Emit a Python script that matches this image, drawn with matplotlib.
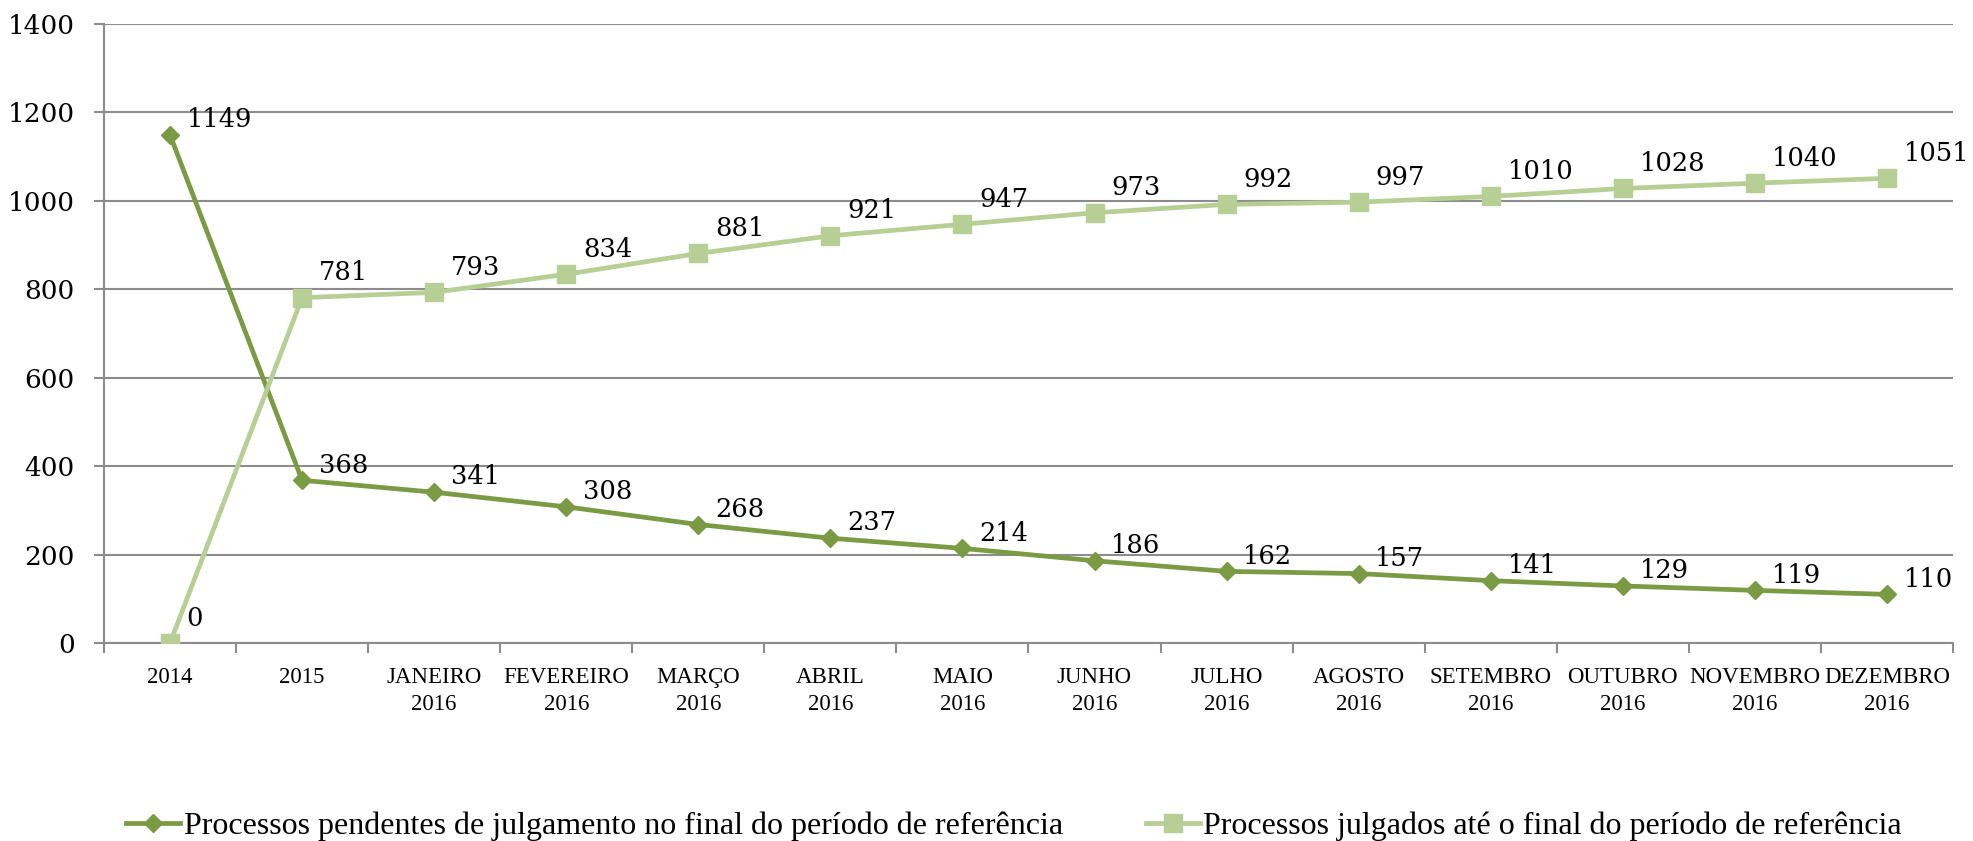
import matplotlib
matplotlib.use("Agg")
import matplotlib.pyplot as plt

categories = ['2014', '2015', 'JANEIRO\n2016', 'FEVEREIRO\n2016', 'MARÇO\n2016',
              'ABRIL\n2016', 'MAIO\n2016', 'JUNHO\n2016', 'JULHO\n2016',
              'AGOSTO\n2016', 'SETEMBRO\n2016', 'OUTUBRO\n2016',
              'NOVEMBRO\n2016', 'DEZEMBRO\n2016']
pendentes = [1149, 368, 341, 308, 268, 237, 214, 186, 162, 157, 141, 129, 119, 110]
julgados = [0, 781, 793, 834, 881, 921, 947, 973, 992, 997, 1010, 1028, 1040, 1051]
label_pend = 'Processos pendentes de julgamento no final do período de referência'
label_julg = 'Processos julgados até o final do período de referência'

dark = '#7A9A43'
light = '#B7CE94'
grid_c = '#8C8C8C'

fig = plt.figure(figsize=(19.73, 8.41), dpi=100)
ax = fig.add_axes([104 / 1973, 198 / 841, 1849 / 1973, 619 / 841])

x = list(range(len(categories)))
ax.plot(x, pendentes, color=dark, lw=3.4, marker='D', ms=9.5, label=label_pend, zorder=3)
ax.plot(x, julgados, color=light, lw=3.4, marker='s', ms=13, label=label_julg, zorder=3)

# data labels, a little above and to the right of each point
num_font = dict(family='DejaVu Serif', fontsize=18.5, color='black')
for xi, v in zip(x, pendentes):
    ax.annotate(str(v), (xi, v), xytext=(12, 11), textcoords='offset points',
                ha='left', va='center', **num_font)
for xi, v in zip(x, julgados):
    ax.annotate(str(v), (xi, v), xytext=(12, 18), textcoords='offset points',
                ha='left', va='center', **num_font)

ax.set_xlim(-0.5, len(categories) - 0.5)
ax.set_ylim(0, 1400)
ax.set_yticks(range(0, 1401, 200))
ax.set_xticks(x)
ax.set_xticklabels(categories, family='Liberation Serif', fontsize=16.5, linespacing=1.4)
ax.set_xticks([i - 0.5 for i in range(len(categories) + 1)], minor=True)
ax.tick_params(axis='x', which='major', length=0, pad=17)
ax.tick_params(axis='x', which='minor', length=7, width=1.5, color=grid_c, direction='out')
ax.tick_params(axis='y', length=7, width=1.5, color=grid_c, pad=14)
for t in ax.get_yticklabels():
    t.set_family('DejaVu Serif')
    t.set_fontsize(19)

ax.grid(axis='y', color=grid_c, lw=1.5)
ax.set_axisbelow(True)
for s in ['top', 'right']:
    ax.spines[s].set_visible(False)
for s in ['left', 'bottom']:
    ax.spines[s].set_color(grid_c)
    ax.spines[s].set_linewidth(1.5)

fig.legend(loc='center left', bbox_to_anchor=(126 / 1973, 15 / 841), ncol=2,
           frameon=False, prop={'family': 'Liberation Serif', 'size': 23},
           handlelength=1.7, handletextpad=0.1, columnspacing=2.6, borderpad=0,
           borderaxespad=0)

fig.savefig('out.png', dpi=100)
